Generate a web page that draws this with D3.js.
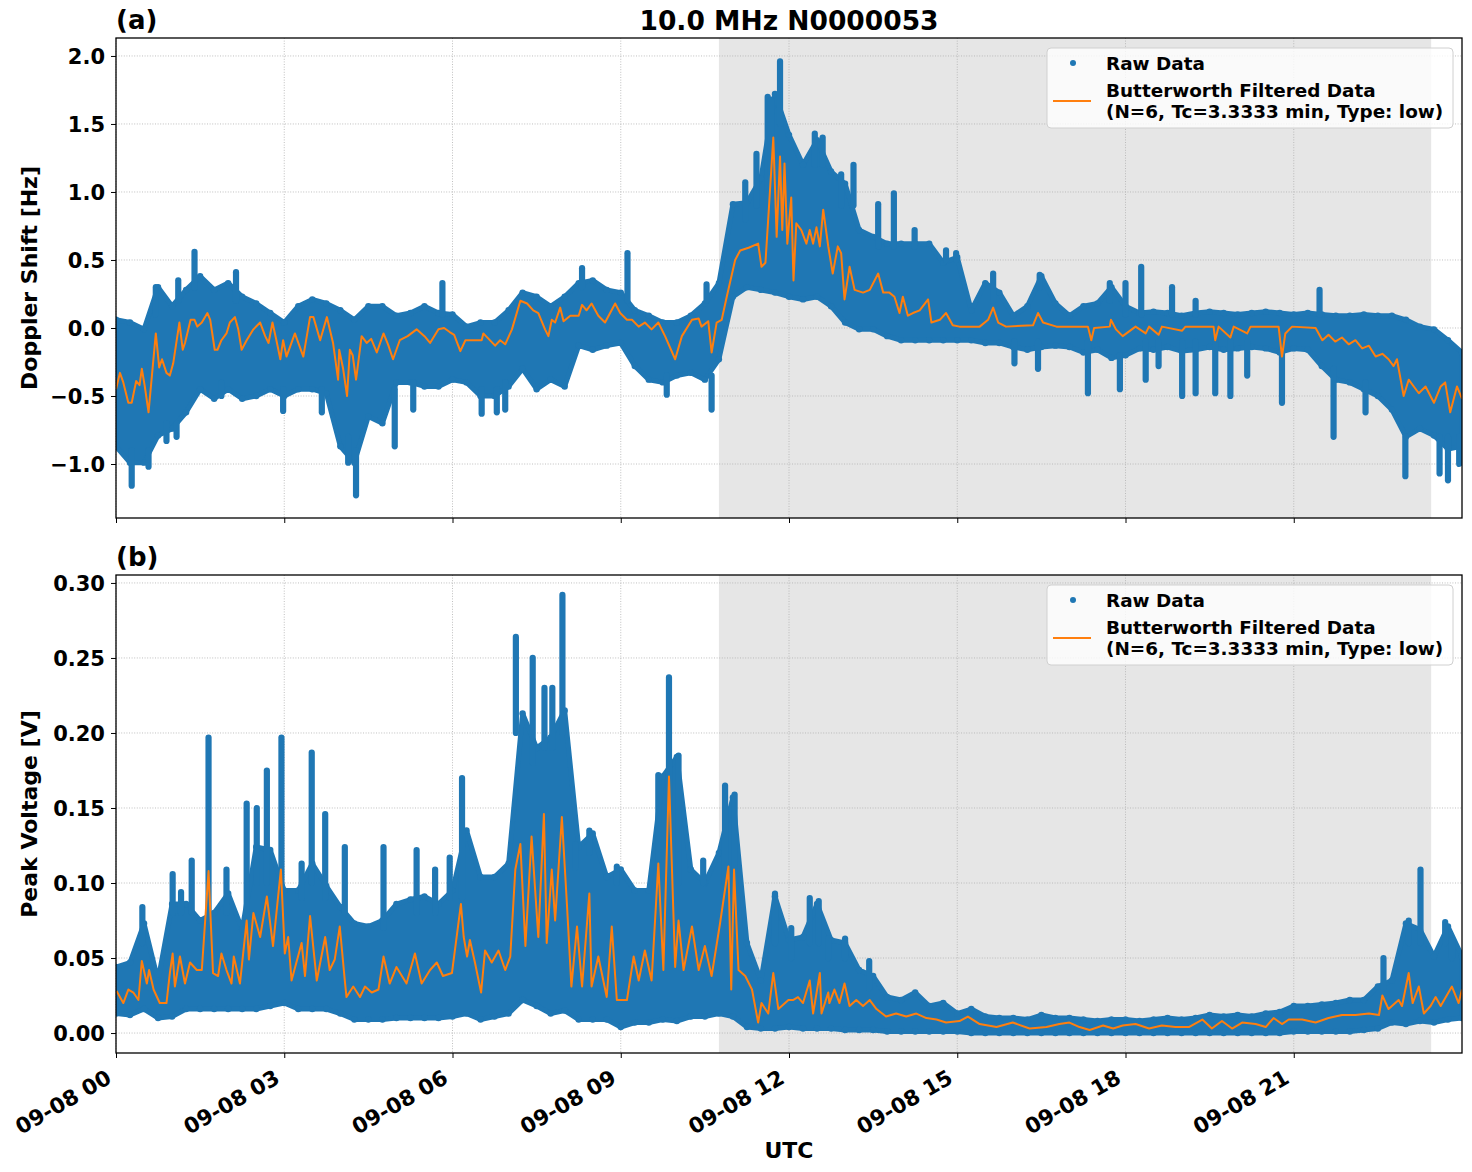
<!DOCTYPE html>
<html><head><meta charset="utf-8">
<script src="https://cdn.jsdelivr.net/npm/d3@7"></script>
<style>body{margin:0;background:#fff}svg{display:block}text{font-family:"DejaVu Sans",sans-serif;font-weight:bold;fill:#000}</style>
</head><body><svg id="c" width="1472" height="1172"></svg>
<script>
// ---------- DATA ----------
const title = "10.0 MHz N0000053";
const xTickHours = [0, 3, 6, 9, 12, 15, 18, 21];
const xTickLabels = ["09-08 00","09-08 03","09-08 06","09-08 09","09-08 12","09-08 15","09-08 18","09-08 21"];
const shadeStart = 10.75, shadeEnd = 23.45;           // hours UTC
const legendLabels = ["Raw Data", "Butterworth Filtered Data", "(N=6, Tc=3.3333 min, Type: low)"];

const yTicksA = [-1.0, -0.5, 0.0, 0.5, 1.0, 1.5, 2.0];
const yTicksB = [0.00, 0.05, 0.10, 0.15, 0.20, 0.25, 0.30];

// envelope time grid (hours)
const envT = [0,0.25,0.5,0.75,1,1.25,1.5,1.75,2,2.25,2.5,2.75,3,3.25,3.5,3.75,4,4.25,4.5,4.75,5,5.25,5.5,5.75,6,6.25,6.5,6.75,7,7.25,7.5,7.75,8,8.25,8.5,8.75,9,9.25,9.5,9.75,10,10.25,10.5,10.75,11,11.25,11.5,11.75,12,12.25,12.5,12.75,13,13.25,13.5,13.75,14,14.25,14.5,14.75,15,15.25,15.5,15.75,16,16.25,16.5,16.75,17,17.25,17.5,17.75,18,18.25,18.5,18.75,19,19.25,19.5,19.75,20,20.25,20.5,20.75,21,21.25,21.5,21.75,22,22.25,22.5,22.75,23,23.25,23.5,23.75,24];

// Panel (a): Doppler shift raw-data envelope [Hz]
const dopUpper = [0.06,0.04,-0.01,0.30,0.16,0.28,0.38,0.28,0.33,0.23,0.18,0.11,0.04,0.16,0.21,0.18,0.13,0.06,0.16,0.16,0.09,0.11,0.16,0.11,0.10,0.01,0.04,0.04,0.13,0.26,0.23,0.16,0.23,0.33,0.35,0.28,0.26,0.13,0.09,0.04,0.04,0.09,0.18,0.33,0.91,0.92,1.10,1.72,1.42,1.20,1.38,1.15,1.06,0.72,0.67,0.62,0.62,0.62,0.62,0.48,0.52,0.13,0.33,0.26,0.09,0.16,0.38,0.18,0.09,0.16,0.18,0.30,0.16,0.11,0.12,0.11,0.09,0.11,0.12,0.11,0.10,0.11,0.12,0.11,0.10,0.11,0.10,0.09,0.09,0.10,0.09,0.09,0.06,0.01,-0.01,-0.09,-0.18,-0.18];
const dopLower = [-0.87,-0.99,-0.99,-0.79,-0.74,-0.62,-0.45,-0.52,-0.45,-0.52,-0.50,-0.45,-0.50,-0.45,-0.45,-0.48,-0.87,-0.99,-0.65,-0.70,-0.40,-0.40,-0.43,-0.43,-0.38,-0.40,-0.50,-0.50,-0.43,-0.30,-0.45,-0.38,-0.43,-0.13,-0.16,-0.13,-0.11,-0.28,-0.38,-0.40,-0.35,-0.33,-0.38,-0.23,0.23,0.30,0.28,0.26,0.23,0.21,0.23,0.16,0.04,-0.01,-0.01,-0.06,-0.09,-0.09,-0.09,-0.09,-0.09,-0.09,-0.11,-0.11,-0.14,-0.16,-0.14,-0.13,-0.14,-0.18,-0.16,-0.22,-0.20,-0.15,-0.16,-0.14,-0.17,-0.16,-0.14,-0.16,-0.15,-0.14,-0.15,-0.18,-0.15,-0.16,-0.28,-0.38,-0.40,-0.45,-0.50,-0.60,-0.80,-0.74,-0.79,-0.89,-0.87];
// columns of isolated raw points: time, from, to
const dopSpikeT    = [0.71,1.11,1.40,2.14,5.82,8.31,9.12,10.53,11.22,11.42,11.62,11.68,11.84,12.46,12.60,12.93,13.15,13.59,13.87,14.24,14.80,14.98,15.64,16.47,17.72,18.00,18.28,18.83,19.25,21.46, 0.28,0.58,0.90,1.08,1.88,2.98,3.67,4.14,4.28,4.97,5.30,6.52,6.79,6.94,9.82,10.62,16.02,16.44,17.33,17.90,18.36,18.59,19.01,19.25,19.60,19.87,20.17,20.79,21.71,22.28,22.99,23.60,23.75,23.95];
const dopSpikeFrom = [0.10,0.20,0.30,0.20,0.10,0.30,0.20,0.20,0.80,0.90,1.00,1.00,1.50,1.20,1.20,0.90,0.90,0.60,0.60,0.60,0.50,0.50,0.20,0.30,0.20,0.10,0.10,0.10,0.10,0.10, -0.90,-0.90,-0.70,-0.70,-0.40,-0.45,-0.45,-0.80,-0.90,-0.45,-0.40,-0.45,-0.45,-0.40,-0.35,-0.35,-0.10,-0.10,-0.10,-0.20,-0.10,-0.10,-0.10,-0.10,-0.10,-0.10,-0.10,-0.10,-0.30,-0.40,-0.80,-0.80,-0.80,-0.80];
const dopSpikeTo   = [0.30,0.35,0.56,0.41,0.33,0.44,0.55,0.32,1.07,1.28,1.70,1.68,1.96,1.43,1.40,1.13,1.20,0.91,0.99,0.72,0.57,0.55,0.40,0.39,0.33,0.33,0.45,0.30,0.20,0.28, -1.16,-1.02,-0.83,-0.80,-0.50,-0.61,-0.62,-0.99,-1.23,-0.87,-0.60,-0.63,-0.62,-0.60,-0.49,-0.60,-0.26,-0.30,-0.48,-0.45,-0.38,-0.28,-0.50,-0.48,-0.48,-0.50,-0.35,-0.55,-0.80,-0.62,-1.09,-1.07,-1.12,-1.00];
// Butterworth filtered Doppler shift
const dopFiltT = [0,0.07,0.13,0.22,0.28,0.36,0.42,0.46,0.51,0.58,0.71,0.77,0.82,0.90,0.96,1.02,1.13,1.19,1.23,1.33,1.40,1.45,1.53,1.63,1.68,1.76,1.81,1.88,1.97,2.03,2.12,2.18,2.24,2.33,2.45,2.57,2.66,2.72,2.79,2.86,2.93,2.98,3.04,3.19,3.34,3.46,3.52,3.64,3.76,3.87,3.96,3.98,4.05,4.12,4.17,4.22,4.28,4.38,4.47,4.55,4.65,4.77,4.85,4.94,5.06,5.20,5.36,5.50,5.60,5.75,5.85,5.95,6.03,6.14,6.23,6.52,6.55,6.76,6.85,6.94,7.06,7.21,7.33,7.44,7.53,7.65,7.71,7.77,7.83,7.92,7.98,8.10,8.25,8.31,8.39,8.48,8.60,8.72,8.90,8.99,9.11,9.20,9.32,9.43,9.55,9.67,9.79,9.97,10.09,10.27,10.39,10.44,10.56,10.62,10.71,10.80,10.89,11.04,11.13,11.28,11.45,11.51,11.58,11.64,11.72,11.78,11.84,11.88,11.92,11.97,12.04,12.08,12.13,12.22,12.31,12.37,12.43,12.49,12.55,12.61,12.70,12.78,12.87,12.93,12.99,13.08,13.17,13.32,13.44,13.59,13.68,13.79,13.88,13.97,14.03,14.12,14.21,14.33,14.48,14.54,14.69,14.80,14.92,15.04,15.40,15.55,15.64,15.73,15.87,16.35,16.44,16.53,16.77,17.18,17.33,17.39,17.44,17.72,17.74,17.83,17.95,18.18,18.36,18.42,18.59,18.65,19.01,19.07,19.57,19.60,19.66,19.87,19.93,20.17,20.23,20.73,20.79,20.85,20.97,21.39,21.51,21.62,21.74,21.86,21.98,22.10,22.22,22.34,22.46,22.58,22.69,22.78,22.84,22.96,23.05,23.14,23.23,23.35,23.50,23.62,23.70,23.79,23.91,24.0];
const dopFiltV = [-0.45,-0.33,-0.40,-0.55,-0.55,-0.39,-0.42,-0.30,-0.42,-0.62,-0.04,-0.29,-0.23,-0.33,-0.35,-0.26,0.04,-0.16,-0.11,0.06,0.06,0.01,0.04,0.11,0.06,-0.16,-0.16,-0.09,-0.04,0.04,0.08,-0.01,-0.16,-0.09,-0.01,0.04,-0.06,-0.11,0.04,-0.09,-0.23,-0.09,-0.21,-0.04,-0.21,0.08,0.08,-0.09,0.08,-0.11,-0.38,-0.16,-0.30,-0.50,-0.16,-0.20,-0.38,-0.06,-0.11,-0.08,-0.18,-0.04,-0.12,-0.23,-0.09,-0.06,-0.01,-0.06,-0.11,-0.01,0.00,-0.03,-0.05,-0.17,-0.09,-0.09,-0.04,-0.13,-0.09,-0.12,-0.01,0.20,0.18,0.13,0.11,-0.01,-0.06,0.06,0.04,0.15,0.05,0.09,0.09,0.17,0.13,0.18,0.09,0.04,0.18,0.11,0.06,0.06,0.01,0.04,-0.01,0.04,-0.06,-0.23,-0.06,0.06,0.07,0.01,0.05,-0.18,0.04,0.06,0.23,0.50,0.57,0.59,0.62,0.45,0.48,0.87,1.40,0.67,1.26,0.72,1.21,0.62,0.96,0.35,0.77,0.72,0.62,0.72,0.62,0.74,0.60,0.87,0.60,0.40,0.60,0.55,0.21,0.45,0.28,0.26,0.28,0.40,0.26,0.26,0.23,0.11,0.23,0.09,0.11,0.13,0.21,0.04,0.06,0.11,0.02,0.01,0.01,0.06,0.15,0.04,0.01,0.02,0.11,0.04,0.01,0.01,0.01,-0.09,0.00,0.01,0.06,-0.01,-0.06,0.01,-0.04,0.01,-0.05,0.01,-0.02,0.01,0.01,-0.09,0.01,-0.07,0.01,-0.04,0.01,0.01,-0.21,-0.04,0.01,0.00,-0.09,-0.05,-0.10,-0.07,-0.12,-0.09,-0.15,-0.13,-0.21,-0.19,-0.23,-0.28,-0.23,-0.50,-0.38,-0.43,-0.48,-0.43,-0.55,-0.43,-0.40,-0.62,-0.43,-0.52];

// Panel (b): peak voltage raw-data envelope [V]
const volUpper = [0.044,0.047,0.073,0.035,0.086,0.086,0.075,0.080,0.093,0.069,0.124,0.122,0.095,0.095,0.113,0.098,0.084,0.073,0.071,0.075,0.086,0.089,0.091,0.086,0.095,0.135,0.104,0.104,0.113,0.213,0.190,0.197,0.215,0.124,0.133,0.104,0.109,0.095,0.095,0.171,0.184,0.109,0.100,0.120,0.157,0.060,0.035,0.091,0.062,0.064,0.086,0.062,0.060,0.042,0.038,0.024,0.022,0.027,0.018,0.020,0.013,0.016,0.011,0.010,0.010,0.009,0.012,0.010,0.010,0.009,0.008,0.009,0.009,0.008,0.009,0.010,0.009,0.010,0.012,0.011,0.012,0.011,0.013,0.014,0.018,0.018,0.019,0.020,0.022,0.022,0.031,0.035,0.073,0.069,0.051,0.071,0.051];
const volLower = [0.013,0.012,0.016,0.010,0.011,0.016,0.016,0.016,0.016,0.016,0.016,0.018,0.020,0.016,0.016,0.016,0.013,0.009,0.009,0.009,0.010,0.010,0.010,0.010,0.011,0.013,0.009,0.011,0.013,0.022,0.018,0.013,0.015,0.009,0.009,0.009,0.004,0.007,0.007,0.009,0.008,0.011,0.011,0.013,0.011,0.004,0.003,0.003,0.004,0.003,0.003,0.003,0.002,0.002,0.002,0.001,0.001,0.001,0.001,0.001,0.001,0.000,0.000,0.000,0.000,0.000,0.000,0.000,0.000,0.000,0.000,0.000,0.000,0.000,0.000,0.000,0.000,0.000,0.000,0.000,0.000,0.000,0.000,0.000,0.001,0.001,0.001,0.001,0.001,0.002,0.003,0.007,0.006,0.008,0.007,0.009,0.010];
const volSpikeT    = [0.47,1.01,1.16,1.35,1.65,1.97,2.33,2.51,2.69,2.95,3.31,3.49,3.73,4.08,4.77,5.36,5.69,5.95,6.17,7.13,7.43,7.64,7.78,7.96,8.19,8.44,8.93,9.67,9.86,10.03,10.47,10.86,11.03,11.75,12.04,12.37,12.53,12.70,13.00,13.43,22.60,23.05,23.26,23.70,23.82];
const volSpikeFrom = [0.060,0.080,0.080,0.080,0.070,0.080,0.070,0.100,0.100,0.090,0.090,0.100,0.090,0.080,0.070,0.080,0.080,0.090,0.090,0.200,0.180,0.190,0.190,0.200,0.110,0.120,0.100,0.100,0.100,0.100,0.100,0.100,0.100,0.060,0.050,0.060,0.060,0.050,0.050,0.030,0.030,0.060,0.060,0.060,0.050];
const volSpikeTo   = [0.084,0.106,0.094,0.115,0.197,0.109,0.153,0.150,0.175,0.197,0.113,0.187,0.146,0.124,0.124,0.122,0.109,0.117,0.170,0.264,0.250,0.230,0.230,0.292,0.126,0.135,0.111,0.172,0.237,0.185,0.115,0.165,0.159,0.093,0.070,0.090,0.088,0.063,0.063,0.048,0.050,0.075,0.109,0.074,0.062];
const volFiltT = [0.01,0.13,0.22,0.31,0.40,0.46,0.55,0.59,0.67,0.78,0.90,0.96,1.01,1.05,1.14,1.23,1.32,1.44,1.53,1.65,1.73,1.82,1.88,1.97,2.06,2.10,2.21,2.33,2.37,2.45,2.57,2.69,2.80,2.94,3.01,3.07,3.13,3.31,3.37,3.46,3.58,3.73,3.81,3.90,3.99,4.08,4.11,4.23,4.35,4.44,4.56,4.68,4.77,4.88,5.00,5.18,5.33,5.45,5.60,5.72,5.83,5.99,6.15,6.20,6.26,6.31,6.40,6.51,6.58,6.70,6.82,6.94,7.03,7.12,7.21,7.30,7.41,7.53,7.63,7.68,7.77,7.83,7.95,8.04,8.12,8.22,8.31,8.44,8.48,8.60,8.75,8.84,8.93,9.11,9.23,9.32,9.43,9.55,9.67,9.76,9.86,9.97,10.03,10.12,10.27,10.39,10.50,10.62,10.77,10.92,10.97,11.02,11.10,11.22,11.34,11.45,11.51,11.63,11.72,11.81,11.99,12.07,12.16,12.25,12.37,12.43,12.55,12.58,12.70,12.72,12.81,12.90,12.99,13.08,13.20,13.32,13.44,13.56,13.73,13.91,14.09,14.27,14.45,14.63,14.80,15.04,15.19,15.40,15.70,15.99,16.29,16.59,16.82,17.00,17.18,17.36,17.60,17.78,17.95,18.18,18.42,18.65,18.89,19.13,19.37,19.54,19.72,19.90,20.08,20.32,20.50,20.64,20.79,20.91,21.15,21.39,21.62,21.86,22.10,22.34,22.52,22.58,22.69,22.87,22.93,23.05,23.12,23.23,23.32,23.44,23.53,23.62,23.82,23.94,24.0];
const volFiltV = [0.028,0.020,0.029,0.027,0.022,0.048,0.033,0.042,0.029,0.020,0.020,0.040,0.053,0.031,0.051,0.033,0.047,0.042,0.042,0.108,0.040,0.038,0.053,0.042,0.033,0.051,0.033,0.075,0.049,0.080,0.064,0.091,0.058,0.109,0.053,0.064,0.035,0.060,0.038,0.078,0.035,0.064,0.042,0.049,0.071,0.035,0.024,0.031,0.024,0.031,0.027,0.029,0.051,0.033,0.044,0.033,0.053,0.033,0.042,0.047,0.038,0.040,0.086,0.064,0.051,0.062,0.047,0.027,0.055,0.047,0.055,0.042,0.051,0.109,0.126,0.058,0.131,0.064,0.146,0.060,0.109,0.075,0.144,0.086,0.031,0.071,0.031,0.093,0.031,0.051,0.024,0.071,0.022,0.022,0.051,0.035,0.055,0.035,0.113,0.042,0.171,0.044,0.075,0.042,0.071,0.042,0.058,0.038,0.073,0.111,0.029,0.109,0.042,0.038,0.029,0.007,0.020,0.013,0.040,0.016,0.022,0.022,0.024,0.020,0.035,0.013,0.040,0.013,0.027,0.020,0.029,0.020,0.033,0.018,0.022,0.018,0.022,0.016,0.011,0.013,0.011,0.013,0.010,0.009,0.007,0.008,0.011,0.006,0.004,0.007,0.003,0.004,0.006,0.007,0.004,0.002,0.005,0.003,0.005,0.006,0.003,0.005,0.004,0.004,0.009,0.003,0.008,0.003,0.007,0.006,0.004,0.010,0.006,0.009,0.009,0.007,0.010,0.012,0.012,0.013,0.012,0.025,0.016,0.022,0.018,0.040,0.020,0.031,0.013,0.018,0.024,0.018,0.031,0.020,0.029];

// ---------- DRAWING ----------
const BLUE = "#1f77b4", ORANGE = "#ff7f0e";
const svg = d3.select("#c");
const L = 116, R = 1462;
const x = d3.scaleLinear().domain([0, 24]).range([L, R]);
const fmtA = d3.format(".1f"), fmtB = d3.format(".2f");

function panel(o) {
  const y = d3.scaleLinear().domain(o.yDomain).range([o.bottom, o.top]);
  const g = svg.append("g");
  const cid = "clip" + o.id;
  svg.append("defs").append("clipPath").attr("id", cid)
    .append("rect").attr("x", L).attr("y", o.top).attr("width", R - L).attr("height", o.bottom - o.top);

  // shaded span
  g.append("rect").attr("x", x(shadeStart)).attr("y", o.top)
    .attr("width", x(shadeEnd) - x(shadeStart)).attr("height", o.bottom - o.top)
    .attr("fill", "#e6e6e6");

  // grid
  const grid = g.append("g").attr("stroke", "#b0b0b0").attr("stroke-width", 0.8).attr("stroke-dasharray", "1,1.6");
  xTickHours.forEach(h => grid.append("line").attr("x1", x(h)).attr("x2", x(h)).attr("y1", o.top).attr("y2", o.bottom));
  o.yTicks.forEach(v => grid.append("line").attr("x1", L).attr("x2", R).attr("y1", y(v)).attr("y2", y(v)));

  const data = g.append("g").attr("clip-path", `url(#${cid})`);
  const env = envT.map((t, i) => ({ t, up: o.up[i], lo: o.lo[i] }));
  data.append("path").datum(env)
    .attr("d", d3.area().x(d => x(d.t)).y0(d => y(d.lo)).y1(d => y(d.up)))
    .attr("fill", BLUE).attr("stroke", BLUE).attr("stroke-width", 5).attr("stroke-linejoin", "round");
  data.append("g").selectAll("circle").data(env.flatMap(d => [[d.t, d.up], [d.t, d.lo]])).join("circle")
    .attr("cx", d => x(d[0])).attr("cy", d => y(d[1])).attr("r", 3.2).attr("fill", BLUE);
  data.append("g").selectAll("line").data(o.spT.map((t, i) => [t, o.spF[i], o.spTo[i]])).join("line")
    .attr("x1", d => x(d[0])).attr("x2", d => x(d[0])).attr("y1", d => y(d[1])).attr("y2", d => y(d[2]))
    .attr("stroke", BLUE).attr("stroke-width", 6.2).attr("stroke-linecap", "round");
  data.append("path").datum(o.fT.map((t, i) => [t, o.fV[i]]))
    .attr("d", d3.line().x(d => x(d[0])).y(d => y(d[1])))
    .attr("fill", "none").attr("stroke", ORANGE).attr("stroke-width", 2).attr("stroke-linejoin", "round");

  // axes
  const ya = svg.append("g").attr("transform", `translate(${L},0)`)
    .call(d3.axisLeft(y).tickValues(o.yTicks).tickFormat(o.fmt).tickSize(5).tickPadding(6));
  ya.select(".domain").remove();
  ya.selectAll("text").attr("font-size", 21).attr("font-family", "DejaVu Sans").attr("font-weight", "bold").attr("dy", "0.36em");
  ya.selectAll("line").attr("stroke", "#000").attr("stroke-width", 1);
  const xa = svg.append("g").attr("transform", `translate(0,${o.bottom})`)
    .call(d3.axisBottom(x).tickValues(xTickHours).tickFormat("").tickSize(5));
  xa.select(".domain").remove();
  xa.selectAll("line").attr("stroke", "#000").attr("stroke-width", 1);
  if (o.xLabels) {
    xTickHours.forEach((h, i) => {
      svg.append("text").attr("transform", `translate(${x(h) - 3},${o.bottom + 29}) rotate(-30)`)
        .attr("text-anchor", "end").attr("font-size", 21.5).text(xTickLabels[i]);
    });
  }

  // frame
  svg.append("rect").attr("x", L).attr("y", o.top).attr("width", R - L).attr("height", o.bottom - o.top)
    .attr("fill", "none").attr("stroke", "#000").attr("stroke-width", 1.3);

  // panel label and y label
  svg.append("text").attr("x", L).attr("y", o.top - 9).attr("font-size", 26).text(o.label);
  svg.append("text").attr("transform", `translate(37,${(o.top + o.bottom) / 2}) rotate(-90)`)
    .attr("text-anchor", "middle").attr("font-size", 22).text(o.ylabel);

  // legend
  const lg = svg.append("g").attr("transform", `translate(1047,${o.top + 10})`);
  lg.append("rect").attr("width", 406).attr("height", 80).attr("rx", 4)
    .attr("fill", "#fff").attr("fill-opacity", 0.8).attr("stroke", "#d0d0d0").attr("stroke-width", 1);
  lg.append("circle").attr("cx", 26).attr("cy", 15).attr("r", 3).attr("fill", BLUE);
  lg.append("line").attr("x1", 6).attr("x2", 44).attr("y1", 53).attr("y2", 53).attr("stroke", ORANGE).attr("stroke-width", 2);
  lg.append("text").attr("x", 59).attr("y", 22).attr("font-size", 18.4).text(legendLabels[0]);
  lg.append("text").attr("x", 59).attr("y", 49).attr("font-size", 18.4).text(legendLabels[1]);
  lg.append("text").attr("x", 59).attr("y", 70).attr("font-size", 18.4).text(legendLabels[2]);
}

panel({ id: "a", top: 38, bottom: 518, yDomain: [-1.397, 2.132], yTicks: yTicksA, fmt: fmtA,
  up: dopUpper, lo: dopLower, spT: dopSpikeT, spF: dopSpikeFrom, spTo: dopSpikeTo, fT: dopFiltT, fV: dopFiltV,
  label: "(a)", ylabel: "Doppler Shift [Hz]", xLabels: false });
panel({ id: "b", top: 575, bottom: 1053, yDomain: [-0.0133, 0.3053], yTicks: yTicksB, fmt: fmtB,
  up: volUpper, lo: volLower, spT: volSpikeT, spF: volSpikeFrom, spTo: volSpikeTo, fT: volFiltT, fV: volFiltV,
  label: "(b)", ylabel: "Peak Voltage [V]", xLabels: true });

svg.append("text").attr("x", (L + R) / 2).attr("y", 30).attr("text-anchor", "middle").attr("font-size", 26.5).text(title);
svg.append("text").attr("x", (L + R) / 2).attr("y", 1158).attr("text-anchor", "middle").attr("font-size", 22).text("UTC");
</script></body></html>
